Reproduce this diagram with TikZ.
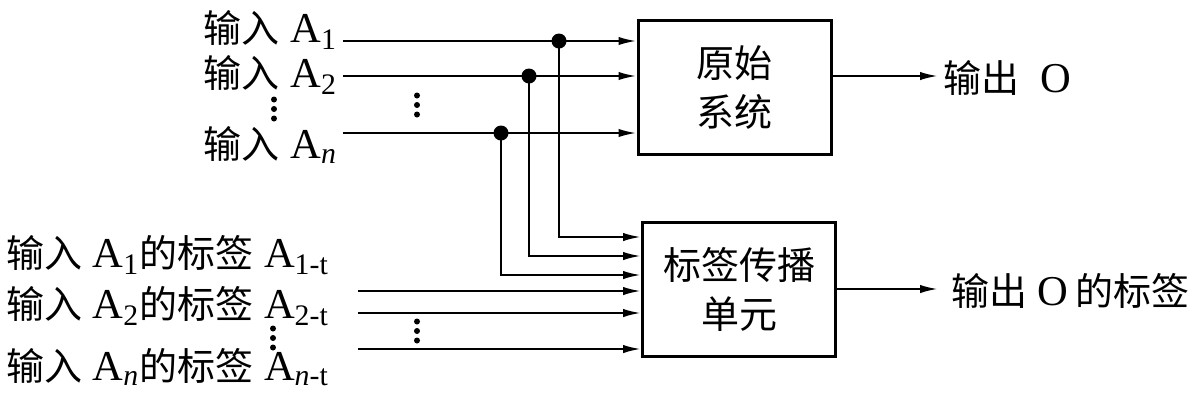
\documentclass[tikz,border=0pt]{standalone}
\usepackage{fontspec}
\setmainfont{Liberation Serif}[Scale=1.12]
\newfontfamily\cjk{Noto Sans CJK SC}
\usetikzlibrary{arrows.meta}

\newcommand{\zh}[1]{{\cjk #1}}

\begin{document}
\begin{tikzpicture}[
    x=0.5pt, y=-0.5pt,
    >={Latex[length=9pt,width=4.2pt]},
    line width=1.1pt,
    every node/.style={font=\fontsize{19}{24.5}\selectfont},
    box/.style={draw,line width=1.5pt,minimum width=96.5pt,minimum height=67pt,
                align=center,inner sep=0pt},
    junc/.style={circle,fill,inner sep=0pt,minimum size=7.5pt},
    lbl/.style={inner sep=0pt}
]
\useasboundingbox (0,0) rectangle (1200,403);

% -- blocks --
\node[box] (sys) at (734.5,87) {\zh{原始}\\\zh{系统}};
\node[box] (prop) at (739,289) {\zh{标签传播}\\\zh{单元}};

% -- input labels --
\node[lbl,anchor=base east] (inA1) at (338,42) {\zh{输入} A\textsubscript{1}};
\node[lbl,anchor=base east] (inA2) at (338,87) {\zh{输入} A\textsubscript{2}};
\node[lbl,anchor=base east] (inAn) at (338,158) {\zh{输入} A\textsubscript{\textit{n}}};

\node[lbl,anchor=base west] (lbA1) at (5,267) {\zh{输入} A\textsubscript{1}\zh{的标签} A\textsubscript{1-t}};
\node[lbl,anchor=base west] (lbA2) at (5,318) {\zh{输入} A\textsubscript{2}\zh{的标签} A\textsubscript{2-t}};
\node[lbl,anchor=base west] (lbAn) at (5,380) {\zh{输入} A\textsubscript{\textit{n}}\zh{的标签} A\textsubscript{\textit{n}-t}};

% -- output labels --
\node[lbl,anchor=base west] (outO) at (942,92) {\zh{输出}\ \ O};
\node[lbl,anchor=base west] (outL) at (950,305) {\zh{输出} O\,\zh{的标签}};

% -- input lines to the original system --
\coordinate (sA1) at (343,41);
\coordinate (sA2) at (343,76);
\coordinate (sAn) at (343,133);
\draw[->] (sA1) -- (sys.west |- sA1);
\draw[->] (sA2) -- (sys.west |- sA2);
\draw[->] (sAn) -- (sys.west |- sAn);

% -- branches to the propagation unit --
\node[junc] (j1) at (559,41) {};
\node[junc] (j2) at (529,76) {};
\node[junc] (jn) at (501,133) {};
\coordinate (c1) at (559,237);
\coordinate (c2) at (529,256);
\coordinate (cn) at (501,275);
\draw[->] (j1.center) -- (c1) -- (prop.west |- c1);
\draw[->] (j2.center) -- (c2) -- (prop.west |- c2);
\draw[->] (jn.center) -- (cn) -- (prop.west |- cn);

% -- label inputs --
\coordinate (tA1) at (358,291);
\coordinate (tA2) at (358,313);
\coordinate (tAn) at (358,349);
\draw[->] (tA1) -- (prop.west |- tA1);
\draw[->] (tA2) -- (prop.west |- tA2);
\draw[->] (tAn) -- (prop.west |- tAn);

% -- outputs --
\coordinate (oO) at (938,76);
\coordinate (oL) at (938,289);
\draw[->] (sys.east |- oO) -- (oO);
\draw[->] (prop.east |- oL) -- (oL);

% -- ellipsis dots --
\foreach \x/\y in {417/105,417/331,274/109,273/338}
  \foreach \k in {-1,0,1}
    \fill (\x,\y+9.5*\k) circle (1.5pt);

\end{tikzpicture}
\end{document}
